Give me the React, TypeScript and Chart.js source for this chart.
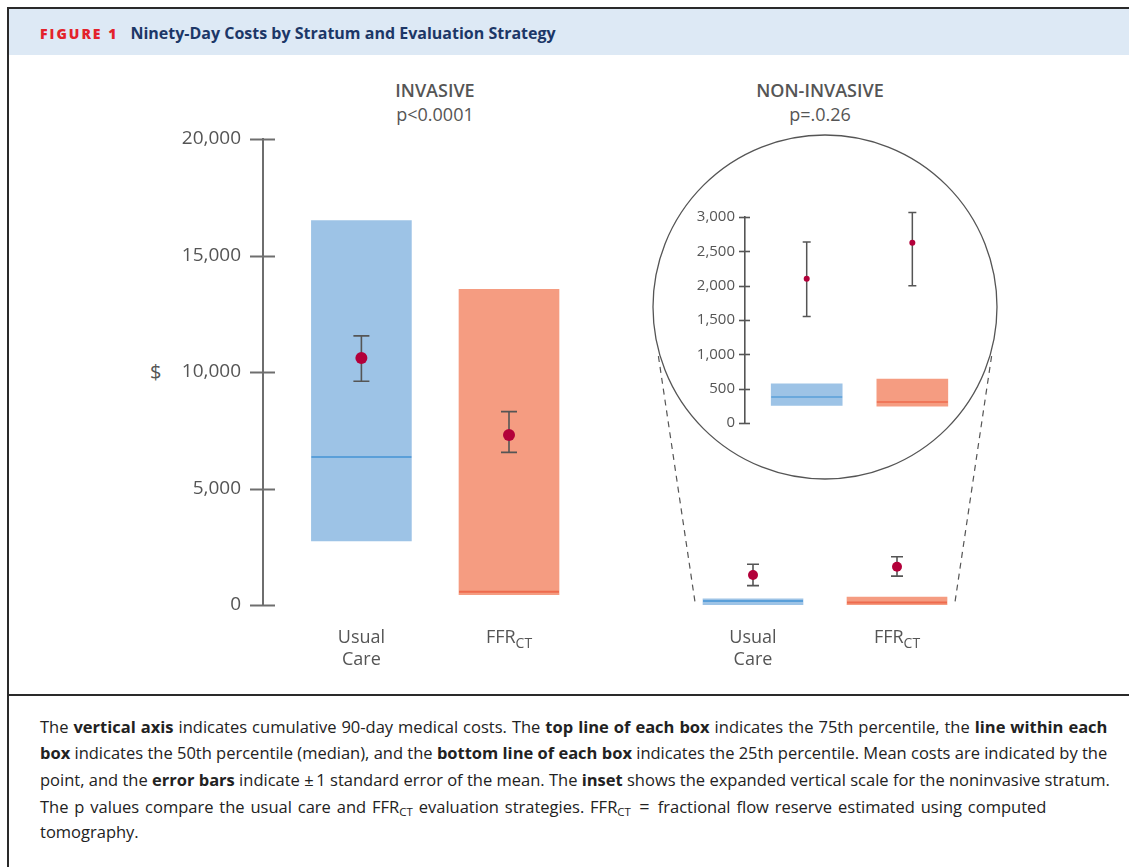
import React, { useEffect, useRef } from 'react';
import { Chart, registerables } from 'chart.js';

Chart.register(...registerables);

// ---------- data ----------
const categoryLabels: string[][] = [['Usual', 'Care'], ['FFR_CT']];

// Invasive stratum (main axis, $)
const invQ1 = [2750, 440];
const invMedian = [6350, 570];
const invQ3 = [16500, 13550];
const invMean = [10600, 7300];
const invSeLow = [9600, 6550];
const invSeHigh = [11550, 8300];

// Non-invasive stratum as drawn on the main axis
const nonQ1 = [15, 15];
const nonMedian = [170, 110];
const nonQ3 = [260, 340];
const nonMean = [1290, 1640];
const nonSeLow = [830, 1240];
const nonSeHigh = [1750, 2070];

// Non-invasive stratum, inset (expanded scale)
const insetQ1 = [255, 245];
const insetMedian = [380, 305];
const insetQ3 = [570, 640];
const insetMean = [2100, 2625];
const insetSeLow = [1550, 2000];
const insetSeHigh = [2635, 3065];

const mainAxisMax = 20000;
const mainAxisStep = 5000;
const insetAxisMax = 3000;
const insetAxisStep = 500;

// ---------- styles ----------
const FONT = "'Open Sans', sans-serif";
const GREY = '#555555';
const BOX_COLORS = ['#9dc3e6', '#f59c81'];
const MEDIAN_COLORS = ['#5a9fd9', '#ee6b4e'];
const MEAN_COLOR = '#b3003a';
const ERR_COLOR = '#555555';

type Series = {
  q1: number[];
  median: number[];
  q3: number[];
  mean: number[];
  seLow: number[];
  seHigh: number[];
};

type PanelStyle = {
  showAxis: boolean;
  axisWidth: number;
  xMin: number;
  xMax: number;
  yMax: number;
  yStep: number;
  padTop: number;
  padBottom: number;
  bar: number;
  medianWidth: number;
  dot: number;
  cap: number;
  errWidth: number;
  tickFont: number;
  tickPad: number;
  tickLeft: number;
  tickRight: number;
  axisColor: string;
  axisLineWidth: number;
  showLabels: boolean;
};

function drawCategoryLabel(ctx: CanvasRenderingContext2D, text: string, cx: number, baseline: number) {
  const [main, sub] = text.split('_');
  ctx.font = `18px ${FONT}`;
  const w1 = ctx.measureText(main).width;
  let w2 = 0;
  if (sub) {
    ctx.font = `14px ${FONT}`;
    w2 = ctx.measureText(sub).width;
  }
  const start = cx - (w1 + w2) / 2;
  ctx.textAlign = 'left';
  ctx.textBaseline = 'alphabetic';
  ctx.fillStyle = GREY;
  ctx.font = `18px ${FONT}`;
  ctx.fillText(main, start, baseline);
  if (sub) {
    ctx.font = `14px ${FONT}`;
    ctx.fillText(sub, start + w1, baseline + 5);
  }
}

function decorPlugin(d: Series, s: PanelStyle) {
  return {
    id: 'decor',
    afterDatasetDraw(chart: any, args: any) {
      if (args.index !== 0) return;
      const { ctx } = chart;
      const x = chart.scales.x;
      const y = chart.scales.y;
      ctx.save();
      d.median.forEach((m, i) => {
        const cx = x.getPixelForValue(i);
        const py = y.getPixelForValue(m);
        ctx.strokeStyle = MEDIAN_COLORS[i];
        ctx.lineWidth = s.medianWidth;
        ctx.beginPath();
        ctx.moveTo(cx - s.bar / 2, py);
        ctx.lineTo(cx + s.bar / 2, py);
        ctx.stroke();
      });
      ctx.strokeStyle = ERR_COLOR;
      ctx.lineWidth = s.errWidth;
      d.seLow.forEach((lo, i) => {
        const cx = x.getPixelForValue(i);
        const y1 = y.getPixelForValue(lo);
        const y2 = y.getPixelForValue(d.seHigh[i]);
        ctx.beginPath();
        ctx.moveTo(cx, y1);
        ctx.lineTo(cx, y2);
        ctx.moveTo(cx - s.cap, y1);
        ctx.lineTo(cx + s.cap, y1);
        ctx.moveTo(cx - s.cap, y2);
        ctx.lineTo(cx + s.cap, y2);
        ctx.stroke();
      });
      ctx.restore();
    },
    afterDraw(chart: any) {
      const { ctx, chartArea } = chart;
      const x = chart.scales.x;
      const y = chart.scales.y;
      ctx.save();
      if (s.showAxis) {
        ctx.strokeStyle = s.axisColor;
        ctx.lineWidth = s.axisLineWidth;
        const ax = chartArea.left;
        y.ticks.forEach((t: any) => {
          const py = Math.round(y.getPixelForValue(t.value)) + 0.5;
          ctx.beginPath();
          ctx.moveTo(ax - s.tickLeft, py);
          ctx.lineTo(ax + s.tickRight, py);
          ctx.stroke();
        });
      }
      if (s.showLabels) {
        const base = y.getPixelForValue(0);
        categoryLabels.forEach((lines, i) => {
          const cx = x.getPixelForValue(i);
          lines.forEach((ln, k) => drawCategoryLabel(ctx, ln, cx, base + 38 + k * 22));
        });
      }
      ctx.restore();
    },
  };
}

const LENS = { cx: 185, cy: 188, r: 172, dashStartOffset: 24 };

function lensPlugin(bar: number) {
  return {
    id: 'lens',
    afterDraw(chart: any) {
      const { ctx } = chart;
      const x = chart.scales.x;
      const y = chart.scales.y;
      const { cx, cy, r, dashStartOffset } = LENS;
      ctx.save();
      ctx.strokeStyle = '#555555';
      ctx.lineWidth = 1.3;
      ctx.beginPath();
      ctx.arc(cx, cy, r, 0, Math.PI * 2);
      ctx.stroke();
      const baseY = y.getPixelForValue(0) - 3;
      const pts = [
        { px: x.getPixelForValue(0) - bar / 2 - 8, side: 1 },
        { px: x.getPixelForValue(categoryLabels.length - 1) + bar / 2 + 8, side: -1 },
      ];
      ctx.setLineDash([6, 5]);
      ctx.lineWidth = 1.2;
      pts.forEach(({ px, side }) => {
        const dx = px - cx;
        const dy = baseY - cy;
        const dist = Math.hypot(dx, dy);
        const th = Math.atan2(dy, dx);
        const a = Math.acos(r / dist);
        const ang = th + side * a;
        const tx = cx + r * Math.cos(ang);
        const ty = cy + r * Math.sin(ang);
        const len = Math.hypot(px - tx, baseY - ty);
        const sx = tx + ((px - tx) / len) * dashStartOffset;
        const sy = ty + ((baseY - ty) / len) * dashStartOffset;
        ctx.beginPath();
        ctx.moveTo(sx, sy);
        ctx.lineTo(px, baseY);
        ctx.stroke();
      });
      ctx.restore();
    },
  };
}

function buildChart(canvas: HTMLCanvasElement, d: Series, s: PanelStyle, extra: any[] = []) {
  return new Chart(canvas, {
    type: 'bar',
    data: {
      datasets: [
        {
          type: 'bar',
          order: 2,
          data: d.q1.map((lo, i) => ({ x: i, y: [lo, d.q3[i]] })) as any,
          backgroundColor: BOX_COLORS,
          borderWidth: 0,
          barThickness: s.bar,
        } as any,
        {
          type: 'scatter',
          order: 1,
          data: d.mean.map((m, i) => ({ x: i, y: m })),
          backgroundColor: MEAN_COLOR,
          borderWidth: 0,
          pointRadius: s.dot,
          pointHoverRadius: s.dot,
        } as any,
      ],
    },
    options: {
      animation: false,
      responsive: false,
      events: [],
      layout: { padding: { top: s.padTop, bottom: s.padBottom, left: 0, right: 0 } },
      plugins: { legend: { display: false }, tooltip: { enabled: false }, title: { display: false } },
      scales: {
        x: { type: 'linear', min: s.xMin, max: s.xMax, display: false, offset: false },
        y: {
          type: 'linear',
          min: 0,
          max: s.yMax,
          display: s.showAxis,
          afterFit: (sc: any) => {
            sc.width = s.axisWidth;
          },
          border: { display: true, color: s.axisColor, width: s.axisLineWidth },
          grid: { display: false, drawTicks: false },
          ticks: {
            stepSize: s.yStep,
            color: GREY,
            padding: s.tickPad,
            font: { family: FONT, size: s.tickFont },
          },
        },
      },
    } as any,
    plugins: [decorPlugin(d, s), ...extra],
  });
}

const mainBase = {
  yMax: mainAxisMax,
  yStep: mainAxisStep,
  padTop: 20,
  padBottom: 75,
  bar: 100,
  medianWidth: 2,
  errWidth: 1.6,
  tickFont: 19,
  tickPad: 22,
  tickLeft: 13,
  tickRight: 12,
  axisColor: '#6e6e6e',
  axisLineWidth: 2,
  showLabels: true,
};

export default function App() {
  const leftRef = useRef<HTMLCanvasElement>(null);
  const rightRef = useRef<HTMLCanvasElement>(null);
  const insetRef = useRef<HTMLCanvasElement>(null);

  useEffect(() => {
    const charts: Chart[] = [];
    if (leftRef.current) {
      charts.push(
        buildChart(
          leftRef.current,
          { q1: invQ1, median: invMedian, q3: invQ3, mean: invMean, seLow: invSeLow, seHigh: invSeHigh },
          { ...mainBase, padTop: 40, showAxis: true, axisWidth: 133, xMin: -2 / 3, xMax: 11 / 6, dot: 6, cap: 8 }
        )
      );
    }
    if (rightRef.current) {
      charts.push(
        buildChart(
          rightRef.current,
          { q1: nonQ1, median: nonMedian, q3: nonQ3, mean: nonMean, seLow: nonSeLow, seHigh: nonSeHigh },
          { ...mainBase, showAxis: false, axisWidth: 0, xMin: -0.75, xMax: 1.75, dot: 5, cap: 6 },
          [lensPlugin(100)]
        )
      );
    }
    if (insetRef.current) {
      charts.push(
        buildChart(
          insetRef.current,
          { q1: insetQ1, median: insetMedian, q3: insetQ3, mean: insetMean, seLow: insetSeLow, seHigh: insetSeHigh },
          {
            showAxis: true,
            axisWidth: 65,
            xMin: -62.5 / 107,
            xMax: -62.5 / 107 + 235 / 107,
            yMax: insetAxisMax,
            yStep: insetAxisStep,
            padTop: 20,
            padBottom: 15,
            bar: 71,
            medianWidth: 1.5,
            dot: 3,
            cap: 4,
            errWidth: 1.5,
            tickFont: 15,
            tickPad: 10,
            tickLeft: 6,
            tickRight: 5,
            axisColor: '#555555',
            axisLineWidth: 1.6,
            showLabels: false,
          }
        )
      );
    }
    return () => charts.forEach((c) => c.destroy());
  }, []);

  const abs = (l: number, t: number, extra: React.CSSProperties = {}): React.CSSProperties => ({
    position: 'absolute',
    left: l,
    top: t,
    ...extra,
  });

  const titleStyle: React.CSSProperties = {
    fontFamily: FONT,
    fontSize: 18,
    lineHeight: '24px',
    color: GREY,
    textAlign: 'center',
    width: 240,
    whiteSpace: 'nowrap',
  };

  const captionLine: React.CSSProperties = { whiteSpace: 'nowrap', height: 26.3 };
  const subStyle: React.CSSProperties = { fontSize: 11.5, verticalAlign: -3, lineHeight: 0 };

  return (
    <div style={{ position: 'absolute', left: 0, top: 0, width: 1129, height: 867, overflow: 'hidden', background: '#ffffff' }}>
      {/* frame */}
      <div style={abs(7, 7, { width: 1122, height: 2, background: '#2a2a2a' })} />
      <div style={abs(7, 7, { width: 2, height: 860, background: '#2a2a2a' })} />
      <div style={abs(9, 9, { width: 1120, height: 46, background: '#dde9f5' })} />
      <div style={abs(7, 694, { width: 1122, height: 2, background: '#2a2a2a' })} />

      {/* header */}
      <div
        style={abs(40, 9, {
          height: 48,
          display: 'flex',
          alignItems: 'center',
          fontFamily: FONT,
          fontWeight: 700,
          whiteSpace: 'nowrap',
        })}
      >
        <span style={{ color: '#e3222b', fontSize: 14, letterSpacing: 2, fontWeight: 800 }}>FIGURE 1</span>
        <span style={{ color: '#1c3767', fontSize: 16, marginLeft: 12 }}>
          Ninety-Day Costs by Stratum and Evaluation Strategy
        </span>
      </div>

      {/* panel titles */}
      <div style={abs(315, 78, titleStyle)}>
        <div style={{ fontWeight: 600 }}>INVASIVE</div>
        <div>p&lt;0.0001</div>
      </div>
      <div style={abs(700, 78, titleStyle)}>
        <div style={{ fontWeight: 600 }}>NON-INVASIVE</div>
        <div>p=.0.26</div>
      </div>

      {/* y axis title */}
      <div style={abs(150, 360, { fontFamily: FONT, fontSize: 20, lineHeight: '24px', color: GREY })}>$</div>

      {/* charts */}
      <canvas ref={leftRef} width={508} height={581} style={abs(130, 99, { zIndex: 1 })} />
      <canvas ref={rightRef} width={370} height={561} style={abs(640, 119, { zIndex: 1 })} />
      <canvas ref={insetRef} width={300} height={245} style={abs(680, 197, { zIndex: 2 })} />

      {/* caption */}
      <div
        style={abs(40, 714, {
          fontFamily: FONT,
          fontSize: 16.5,
          lineHeight: '26.3px',
          color: '#222222',
        })}
      >
        <div style={{ ...captionLine, wordSpacing: 0.7 }}>
          The <b>vertical axis</b> indicates cumulative 90-day medical costs. The <b>top line of each box</b> indicates
          the 75th percentile, the <b>line within each</b>
        </div>
        <div style={captionLine}>
          <b>box</b> indicates the 50th percentile (median), and the <b>bottom line of each box</b> indicates the 25th
          percentile. Mean costs are indicated by the
        </div>
        <div style={captionLine}>
          point, and the <b>error bars</b> indicate {'\u00B1\u20091'} standard error of the mean. The <b>inset</b> shows
          the expanded vertical scale for the noninvasive stratum.
        </div>
        <div style={{ ...captionLine, wordSpacing: 1.6 }}>
          {'The p values compare the usual care and FFR'}
          <sub style={subStyle}>CT</sub>
          {' evaluation strategies. FFR'}
          <sub style={subStyle}>CT</sub>
          <span style={{ margin: '0 2px', fontSize: 18 }}>{' = '}</span>
          {'fractional flow reserve estimated using computed'}
        </div>
        <div style={captionLine}>tomography.</div>
      </div>
    </div>
  );
}
